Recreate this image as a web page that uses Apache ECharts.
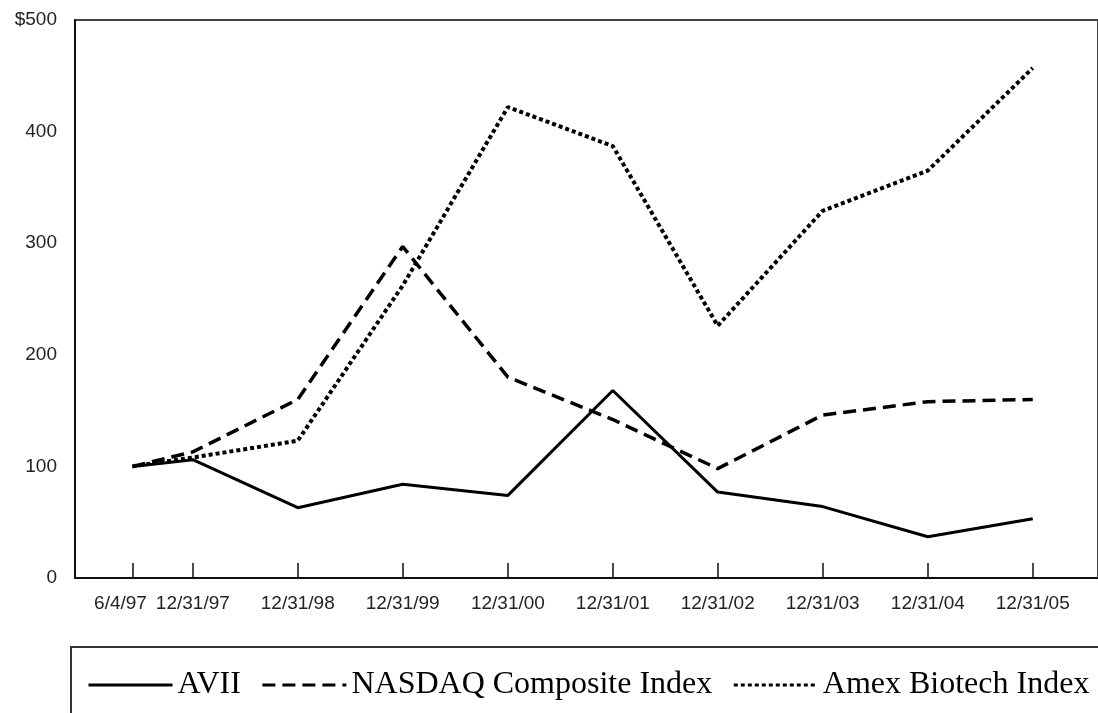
<!DOCTYPE html>
<html>
<head>
<meta charset="utf-8">
<script src="https://cdn.jsdelivr.net/npm/echarts@6/dist/echarts.min.js"></script>
<style>
html,body{margin:0;padding:0;background:#fff;}
#chart{width:1098px;height:713px;}
</style>
</head>
<body>
<div id="chart"></div>
<script>
// ---- data ----
var dates = ['1997-06-04','1997-12-31','1998-12-31','1999-12-31','2000-12-31','2001-12-31','2002-12-31','2003-12-31','2004-12-31','2005-12-31'];
var tickLabels = ['6/4/97','12/31/97','12/31/98','12/31/99','12/31/00','12/31/01','12/31/02','12/31/03','12/31/04','12/31/05'];
var avii   = [100, 106, 63, 84, 74, 168, 77, 64, 37, 53];
var nasdaq = [100, 113, 160, 297, 180, 142, 98, 146, 158, 160];
var amex   = [100, 108, 123, 262, 422, 387, 226, 329, 365, 457];
var seriesNames = ['AVII', 'NASDAQ Composite Index', 'Amex Biotech Index'];
var yTicks = [0, 100, 200, 300, 400, 500];

var DAY = 86400000;
// day numbers (days since 1970-01-01, UTC)
function dayNum(s){ var p = s.split('-'); return Math.round(Date.UTC(+p[0], +p[1]-1, +p[2]) / DAY); }
var days = dates.map(dayNum);
function pairs(vals){ return days.map(function(d,i){ return [d, vals[i]]; }); }

var xMin = days[0] - 200;
var xMax = days[days.length-1] + 227;

var chart = echarts.init(document.getElementById('chart'), null, {renderer:'canvas'});
var axisFont = 'Liberation Sans, Arial, sans-serif';
var option = {
  backgroundColor: '#fff',
  animation: false,
  grid: {
    left: 75, top: 20, width: 1030, height: 558,
    show: true, borderColor: '#444', borderWidth: 2, backgroundColor: 'transparent'
  },
  xAxis: {
    type: 'value',
    min: xMin, max: xMax,
    axisLine: {show: true, onZero: false, lineStyle: {color: '#111', width: 2}},
    axisTick: {show: true, inside: true, length: 15, interval: 0, lineStyle: {color: '#111', width: 1.5}, customValues: days},
    axisLabel: {
      show: true, margin: 16, color: '#222', fontSize: 19, fontFamily: axisFont,
      showMinLabel: true, showMaxLabel: true, hideOverlap: false, interval: 0,
      customValues: days,
      rich: {
        first: {fontSize: 19, fontFamily: axisFont, color: '#222', padding: [0, 24, 0, 0]}
      },
      formatter: function(v){
        var i = days.indexOf(v);
        if (i < 0) return '';
        return i === 0 ? '{first|' + tickLabels[i] + '}' : tickLabels[i];
      }
    },
    splitLine: {show: false}
  },
  yAxis: {
    type: 'value', min: 0, max: 500, interval: 100,
    axisLine: {show: true, lineStyle: {color: '#111', width: 2}},
    axisTick: {show: false},
    splitLine: {show: false},
    axisLabel: {
      margin: 18, color: '#222', fontSize: 19, fontFamily: axisFont,
      formatter: function(v){ return v === yTicks[yTicks.length-1] ? '$' + v : String(v); }
    }
  },
  legend: {
    show: true,
    left: 71, top: 647, width: 1080,
    orient: 'horizontal',
    padding: [22, 30, 40, 16],
    borderColor: '#333', borderWidth: 2,
    itemWidth: 84, itemHeight: 30, itemGap: 20,
    itemStyle: {opacity: 0, color: 'rgba(0,0,0,0)', borderWidth: 0},
    lineStyle: {width: 3},
    textStyle: {fontFamily: 'Liberation Serif, Times New Roman, serif', fontSize: 32, color: '#000'},
    data: seriesNames
  },
  series: [
    {
      name: seriesNames[0], type: 'line', data: pairs(avii), symbol: 'none',
      lineStyle: {color: '#000', width: 3, type: 'solid'}, itemStyle: {color: '#000'}
    },
    {
      name: seriesNames[1], type: 'line', data: pairs(nasdaq), symbol: 'none',
      lineStyle: {color: '#000', width: 3.5, type: [13, 7]}, itemStyle: {color: '#000'}
    },
    {
      name: seriesNames[2], type: 'line', data: pairs(amex), symbol: 'none',
      lineStyle: {color: '#000', width: 4, type: [4, 3]}, itemStyle: {color: '#000'}
    }
  ]
};
chart.setOption(option);
</script>
</body>
</html>
